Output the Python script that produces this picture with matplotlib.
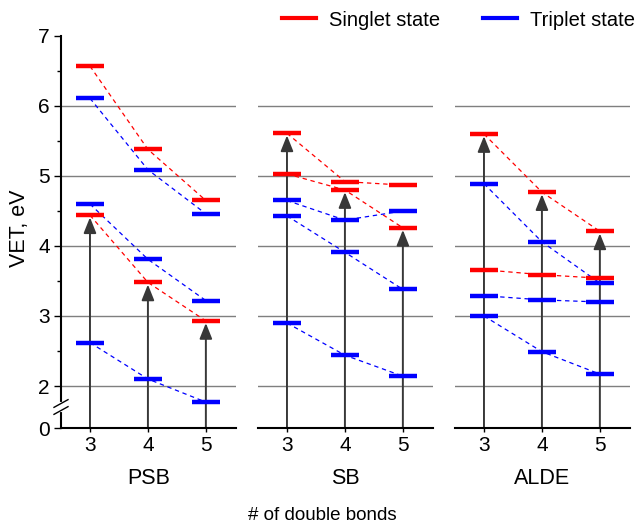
import numpy as np
import matplotlib.pyplot as plt
import matplotlib.transforms as mtransforms
from matplotlib.lines import Line2D

plt.rcParams['font.family'] = ['Liberation Sans', 'DejaVu Sans']

n_bonds = [3, 4, 5]
panel_names = ['PSB', 'SB', 'ALDE']

# each inner list is one dashed chain over n = 3, 4, 5 (eV)
psb_singlet = [[6.57, 5.38, 4.65], [4.44, 3.48, 2.93]]
psb_triplet = [[6.11, 5.09, 4.46], [4.60, 3.81, 3.22], [2.62, 2.10, 1.77]]
psb_bright = [4.44, 3.48, 2.93]

sb_singlet = [[5.61, 4.92, 4.87], [5.03, 4.80, 4.26]]
sb_triplet = [[4.65, 4.37, 4.50], [4.43, 3.91, 3.38], [2.90, 2.44, 2.14]]
sb_bright = [5.61, 4.80, 4.26]

alde_singlet = [[5.60, 4.77, 4.21], [3.66, 3.59, 3.54]]
alde_triplet = [[4.89, 4.06, 3.47], [3.29, 3.23, 3.20], [3.00, 2.49, 2.17]]
alde_bright = [5.60, 4.77, 4.21]

y_bottom = 1.4   # broken axis: this position is labelled 0
S_COL = '#ff0000'
T_COL = '#0000ff'


def draw_panel(ax, singlet, triplet, bright):
    for g in range(2, 7):
        ax.axhline(g, color='#7f7f7f', lw=1, zorder=0)

    for chains, col in [(singlet, S_COL), (triplet, T_COL)]:
        for chain in chains:
            ax.plot(n_bonds, chain, color=col, lw=0.9, ls=(0, (3.5, 3)), zorder=1)
            ax.hlines(chain, [n - 0.24 for n in n_bonds], [n + 0.24 for n in n_bonds],
                      color=col, lw=3.2, zorder=4)

    for n, b in zip(n_bonds, bright):
        ax.annotate('', xy=(n, b - 0.03), xytext=(n, y_bottom),
                    arrowprops=dict(arrowstyle='-|>,head_width=0.38,head_length=0.95',
                                    mutation_scale=10, color='#383838', lw=1.4,
                                    shrinkA=0, shrinkB=0),
                    zorder=2, annotation_clip=False)

    ax.set_xlim(2.5, 5.52)
    ax.set_ylim(y_bottom, 7)
    ax.set_xticks(n_bonds)
    ax.tick_params(axis='x', direction='out', length=3, width=1, labelsize=15, pad=3)
    for s in ['top', 'right']:
        ax.spines[s].set_visible(False)
    ax.spines['bottom'].set_linewidth(1.5)


fig = plt.figure(figsize=(6.44, 5.26), dpi=100)
bottom = 1 - 428 / 526
height = (428 - 36) / 526
lefts = [61 / 644, 258 / 644, 455 / 644]
width = 175 / 644

data = [(psb_singlet, psb_triplet, psb_bright),
        (sb_singlet, sb_triplet, sb_bright),
        (alde_singlet, alde_triplet, alde_bright)]

for i, (left, (s, t, b), name) in enumerate(zip(lefts, data, panel_names)):
    ax = fig.add_axes([left, bottom, width, height])
    draw_panel(ax, s, t, b)
    if i == 0:
        ax.set_yticks([y_bottom, 2, 3, 4, 5, 6, 7])
        ax.set_yticklabels(['0', '2', '3', '4', '5', '6', '7'])
        ax.set_yticks([2.5, 3.5, 4.5, 5.5, 6.5], minor=True)
        ax.tick_params(axis='y', which='major', direction='out', length=5, width=1,
                       labelsize=15, pad=3)
        ax.tick_params(axis='y', which='minor', direction='out', length=3, width=1)
        ax.spines['left'].set_linewidth(1.5)
        # axis break marks
        tr = mtransforms.blended_transform_factory(ax.transAxes, ax.transData)
        ax.plot([0, 0], [1.66, 1.74], transform=tr, color='white', lw=3,
                clip_on=False, zorder=6)
        for yb in [1.65, 1.75]:
            ax.plot([-0.04, 0.04], [yb - 0.055, yb + 0.055], transform=tr,
                    color='black', lw=1, clip_on=False, zorder=7)
    else:
        ax.spines['left'].set_visible(False)
        ax.set_yticks([])
    fig.text(left + width / 2, 1 - 478 / 526, name, ha='center', va='center', fontsize=15.5)

fig.text(322 / 644, 1 - 515 / 526, '# of double bonds', ha='center', va='center', fontsize=13.5)
fig.text(20 / 644, 1 - 228 / 526, 'VET, eV', ha='center', va='center', rotation=90,
         fontsize=15.5)

handles = [Line2D([], [], color=S_COL, lw=3), Line2D([], [], color=T_COL, lw=3)]
fig.legend(handles, ['Singlet state', 'Triplet state'], loc='center left',
           bbox_to_anchor=(282 / 644, 1 - 20 / 526), ncol=2, frameon=False,
           fontsize=14.5, handlelength=1.7, handletextpad=0.65, columnspacing=2.1,
           borderpad=0, borderaxespad=0)

fig.savefig('out.png', dpi=100)
